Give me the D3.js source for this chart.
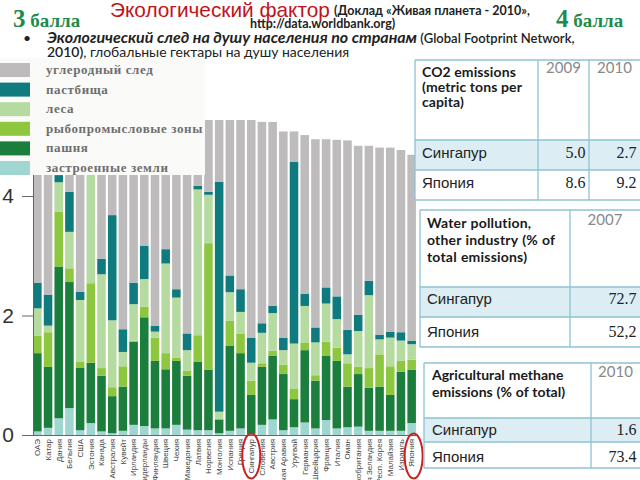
<!DOCTYPE html>
<html><head><meta charset="utf-8">
<script src="https://cdn.jsdelivr.net/npm/d3@7"></script>
<style>
body{margin:0;background:#fff;}
svg{display:block;}
</style></head><body>
<svg id="c" width="640" height="480"></svg>
<script>
// ---------- DATA ----------
const countries = ["ОАЭ","Катар","Дания","Бельгия","США","Эстония","Канада","Австралия","Кувейт","Ирландия","Нидерланды","Финляндия","Швеция","Чехия","Македония","Латвия","Норвегия","Монголия","Испания","Греция","Сингапур","Словения","Австрия","Саудовская Аравия","Уругвай","Германия","Швейцария","Франция","Италия","Оман","Великобритания","Новая Зеландия","Респ. Корея","Малайзия","Израиль","Япония"];
const built   = [0.06,0.12,0.28,0.45,0.08,0.20,0.06,0.03,0.07,0.17,0.15,0.11,0.11,0.17,0.09,0.08,0.08,0.03,0.07,0.11,0.02,0.17,0.26,0.08,0.13,0.21,0.11,0.25,0.11,0.13,0.14,0.07,0.07,0.07,0.07,0.20];
const cropland= [1.31,1.02,2.54,2.11,1.05,1.01,0.93,0.62,0.74,1.39,1.82,1.13,0.99,1.07,0.90,1.15,1.01,0.23,1.42,1.26,0.65,0.97,1.07,0.94,0.47,1.21,0.80,1.08,1.13,0.68,0.88,0.72,0.74,0.60,0.99,0.89];
const fishing = [0.29,0.58,0.92,0.23,0.10,1.33,0.13,0.15,0.34,0.02,0.18,0.39,0.27,0.05,0.09,0.44,2.12,0.01,0.42,0.33,0.24,0.06,0.08,0.16,0.17,0.13,0.09,0.23,0.22,0.39,0.12,0.33,0.54,0.48,0.18,0.17];
const forest  = [0.46,0.11,0.49,0.61,1.03,2.16,1.57,1.12,0.24,0.61,0.46,0.10,1.50,1.01,0.34,2.44,0.81,0.12,0.48,0.36,0.30,0.51,0.63,0.24,0.76,0.61,0.55,0.64,0.48,0.15,0.60,1.22,0.25,0.48,0.34,0.26];
const grazing = [0.43,0.52,0.12,0.67,0.14,0.15,0.26,1.76,0.38,0.36,0.56,0.10,0.24,0.14,0.28,0.06,0.05,3.85,0.28,0.38,0.42,0.16,0.12,0.21,3.04,0.20,0.25,0.27,0.38,0.41,0.27,0.24,0.08,0.10,0.14,0.06];
const carbon  = [8.13,8.16,3.91,3.93,5.60,3.03,4.06,3.16,4.55,3.74,3.02,4.20,2.77,3.29,3.96,1.47,1.49,1.29,2.75,2.95,3.71,3.37,3.08,3.45,0.51,2.66,3.15,2.48,2.62,3.17,2.83,2.26,3.13,3.08,3.05,3.11];
const seriesKeys   = ["built","cropland","fishing","forest","grazing","carbon"];
const seriesColors = ["#a0d6d0","#1b7e3c","#8dc63f","#b5dba1","#0f7b7e","#bdbbbb"];
const legendLabels = ["углеродный след","пастбища","леса","рыбопромысловые зоны","пашня","застроенные земли"];
const legendKeys   = ["carbon","grazing","forest","fishing","cropland","built"];
const yTicks = [0,2,4];

const co2Header = ["CO2 emissions","(metric tons per","capita)"];
const co2Years  = ["2009","2010"];
const rowNames  = ["Сингапур","Япония"];
const co2Values = [["5.0","2.7"],["8.6","9.2"]];
const waterHeader = ["Water pollution,","other industry (% of","total emissions)"];
const waterYears  = ["2007"];
const waterValues = [["72.7"],["52,2"]];
const methHeader = ["Agricultural methane","emissions (% of total)"];
const methYears  = ["2010"];
const methValues = [["1.6"],["73.4"]];

// ---------- CHART ----------
const svg = d3.select("#c");
svg.append("rect").attr("width",640).attr("height",480).attr("fill","#fff");

const rows = countries.map((c,i)=>({country:c, built:built[i], cropland:cropland[i], fishing:fishing[i], forest:forest[i], grazing:grazing[i], carbon:carbon[i]}));
const x = d3.scaleBand().domain(countries).range([32,417]).paddingInner(0.2).paddingOuter(0.1);
const y = d3.scaleLinear().domain([0,5.272]).range([435,120]);
const color = d3.scaleOrdinal().domain(seriesKeys).range(seriesColors);
const stacked = d3.stack().keys(seriesKeys)(rows);

svg.append("clipPath").attr("id","plot").append("rect").attr("x",32).attr("y",120).attr("width",390).attr("height",315);
const gb = svg.append("g").attr("clip-path","url(#plot)");
gb.selectAll("g").data(stacked).join("g").attr("fill",d=>color(d.key))
  .selectAll("rect").data(d=>d).join("rect")
  .attr("x",d=>x(d.data.country)).attr("width",x.bandwidth())
  .attr("y",d=>y(d[1])).attr("height",d=>y(d[0])-y(d[1]));

// y axis
const ya = svg.append("g").attr("transform","translate(33,0)")
  .call(d3.axisLeft(y).tickValues(yTicks).tickSize(11).tickSizeOuter(0).tickPadding(8).tickFormat(d3.format("d")));
ya.select(".domain").attr("stroke","#666");
ya.selectAll(".tick line").attr("stroke","#666");
ya.selectAll("text").attr("font-family","Liberation Sans, Arial, sans-serif").attr("font-size",21).attr("fill","#333");

// x axis
const xa = svg.append("g").attr("transform","translate(0,435)")
  .call(d3.axisBottom(x).tickSize(0).tickSizeOuter(0));
xa.select(".domain").attr("stroke","#666");
xa.selectAll("text").attr("font-family","Liberation Sans, Arial, sans-serif").attr("font-size",8).attr("fill","#444")
  .attr("transform","rotate(-90)").attr("x",-4).attr("y",0).attr("dy","0.35em").style("text-anchor","end");

// red ellipses
const ell = [["Сингапур",0],["Япония",2]];
svg.selectAll("ellipse.m").data(ell).join("ellipse")
  .attr("cx",d=>x(d[0])+x.bandwidth()/2+d[1]).attr("cy",456).attr("rx",9).attr("ry",22.5)
  .attr("fill","none").attr("stroke","#cc1f1f").attr("stroke-width",2);

// legend box
svg.append("rect").attr("x",0).attr("y",58).attr("width",205).attr("height",117).attr("fill","#fafaf8");
const lg = svg.append("g");
legendKeys.forEach((k,i)=>{
  const yy = 63 + i*19.6;
  lg.append("rect").attr("x",0).attr("y",yy).attr("width",30).attr("height",14).attr("fill",color(k));
  lg.append("text").attr("x",46).attr("y",yy+11).text(legendLabels[i])
    .attr("font-family","Liberation Serif, DejaVu Serif, serif").attr("font-weight","bold")
    .attr("font-size",13).attr("letter-spacing",0.6).attr("fill","#6e6e6e");
});

// ---------- TITLES ----------
const sans = "Lato, 'Open Sans', sans-serif";
svg.append("text").attr("x",110).attr("y",17).text("Экологический фактор")
  .attr("font-family","Liberation Sans, Arial, sans-serif").attr("font-size",20.8).attr("fill","#c0141c");
svg.append("text").attr("x",334).attr("y",15).text("(Доклад «Живая планета - 2010»,")
  .attr("font-family",sans).attr("font-size",12.5).attr("font-weight",700).attr("fill","#222");
svg.append("text").attr("x",250).attr("y",28).text("http://data.worldbank.org)")
  .attr("font-family",sans).attr("font-size",12.5).attr("font-weight",700).attr("fill","#222");
const ball = (xx,n)=>{ const t=svg.append("text").attr("x",xx).attr("y",27).attr("font-family","Liberation Serif, serif").attr("font-weight","bold").attr("fill","#1f8a4d");
  t.append("tspan").attr("font-size",25).text(n); t.append("tspan").attr("font-size",19).text(" балла"); };
ball(13,"3"); ball(556,"4");
svg.append("text").attr("x",23).attr("y",43).text("•").attr("font-family",sans).attr("font-size",14).attr("fill","#222");
const l1 = svg.append("text").attr("x",47).attr("y",43).attr("font-family",sans).attr("fill","#222");
l1.append("tspan").attr("font-style","italic").attr("font-weight",700).attr("font-size",16).text("Экологический след на душу населения по странам");
l1.append("tspan").attr("font-weight",600).attr("font-size",13).text(" (Global Footprint Network,");
const l2 = svg.append("text").attr("x",47).attr("y",57).attr("font-family",sans).attr("font-size",14).attr("fill","#222");
l2.append("tspan").attr("font-weight",600).text("2010)");
l2.append("tspan").text(", глобальные гектары на душу населения");

// ---------- TABLES ----------
const bc = "#8cc3d3", fillRow = "#dcedf4";
function table(o){
  const g = svg.append("g");
  const [x0,x1] = [o.cols[0], o.cols[o.cols.length-1]];
  g.append("rect").attr("x",x0).attr("y",o.rows[0]).attr("width",x1-x0).attr("height",o.rows[o.rows.length-1]-o.rows[0]).attr("fill","#fff");
  g.append("rect").attr("x",x0).attr("y",o.rows[1]).attr("width",x1-x0).attr("height",o.rows[2]-o.rows[1]).attr("fill",fillRow);
  o.rows.forEach(r=>g.append("line").attr("x1",x0).attr("x2",x1).attr("y1",r).attr("y2",r).attr("stroke",bc).attr("stroke-width",1.3));
  o.cols.forEach(c=>g.append("line").attr("x1",c).attr("x2",c).attr("y1",o.rows[0]).attr("y2",o.rows[o.rows.length-1]).attr("stroke",bc).attr("stroke-width",1.3));
  o.header.forEach((h,i)=>g.append("text").attr("x",o.tx).attr("y",o.hy[i]).text(h)
    .attr("font-family",sans).attr("font-weight",700).attr("font-size",14).attr("letter-spacing",o.ls).attr("word-spacing",o.ws).attr("fill","#1a1a1a"));
  o.years.forEach((yr,j)=>g.append("text").attr("x",(o.cols[j+1]+Math.min(o.cols[j+2],640))/2).attr("y",o.yy).text(yr)
    .attr("text-anchor","middle").attr("font-family",sans).attr("font-size",15).attr("fill","#888"));
  rowNames.forEach((n,i)=>{
    g.append("text").attr("x",o.tx).attr("y",o.ny[i]).text(n)
      .attr("font-family","Liberation Sans, Arial, sans-serif").attr("font-size",15).attr("fill","#222");
    o.values[i].forEach((v,j)=>g.append("text").attr("x",Math.min(o.cols[j+2],640)-3.5).attr("y",o.ny[i]).text(v)
      .attr("text-anchor","end").attr("font-family","Liberation Serif, serif").attr("font-size",16).attr("fill","#222"));
  });
}
table({cols:[415,538,589,641], rows:[60,140,170,200], tx:422, hy:[77,92,107], yy:73, years:co2Years, header:co2Header, ny:[158,188], values:co2Values, ls:0.1, ws:0});
table({cols:[420,570,641], rows:[210,287,317,347], tx:427, hy:[228,245,262], yy:225, years:waterYears, header:waterHeader, ny:[304,337], values:waterValues, ls:0.2, ws:0.5});
table({cols:[424,591,641], rows:[363,418,442,468], tx:432, hy:[380,397], yy:377, years:methYears, header:methHeader, ny:[435,462], values:methValues, ls:0, ws:0.5});
</script>
</body></html>
